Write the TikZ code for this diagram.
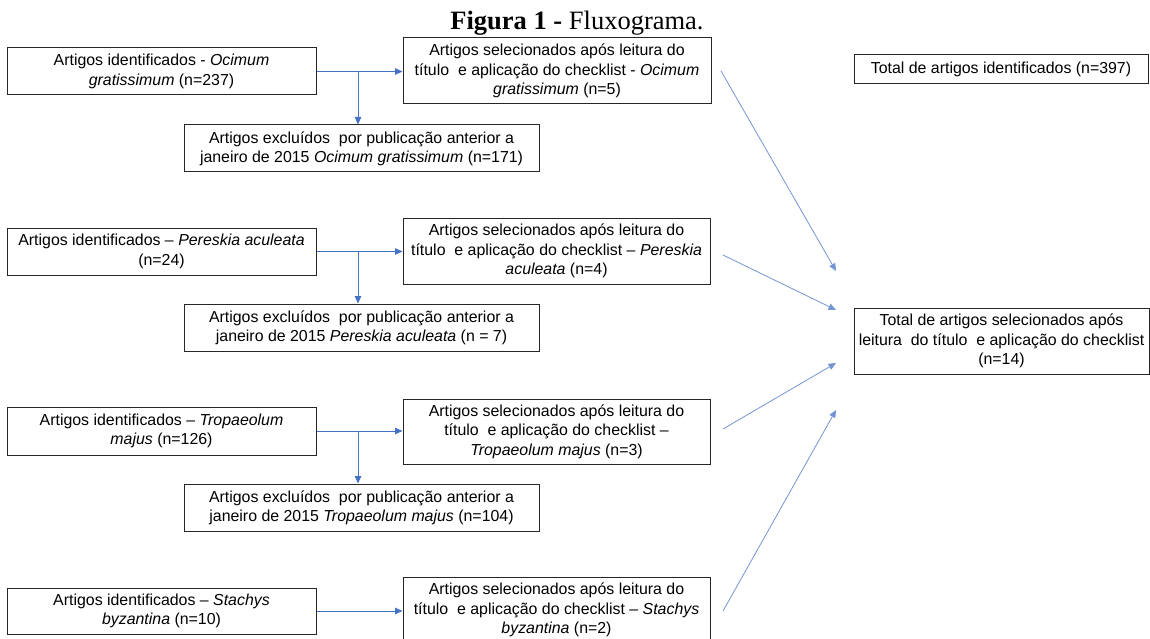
\documentclass[tikz,border=0pt]{standalone}
\usepackage{fontspec}
\setmainfont{Liberation Sans}
\newfontfamily\titlefont{Liberation Serif}
\usetikzlibrary{arrows.meta}
\definecolor{arrblue}{RGB}{68,114,196}
\begin{document}
\begin{tikzpicture}[x=1pt,y=-1pt,
  box/.style={draw=black!85, line width=1pt, align=center, inner sep=0pt,
    font=\fontsize{15.9}{19.3}\selectfont},
  arr/.style={draw=arrblue, line width=0.9pt, -{Triangle[length=7.5pt,width=6.5pt]}},
  longarr/.style={draw=arrblue!75, line width=0.8pt, -{Triangle[length=7.5pt,width=6.5pt]}}]
\useasboundingbox (0,0) rectangle (1150,639);
\clip (0,0) rectangle (1150,639);

\node[anchor=base] (title) at (577,30) {\titlefont\fontsize{26.5}{29}\selectfont\textbf{Figura 1 -} Fluxograma.};

% row 1
\node[box, minimum width=309pt, minimum height=47pt] (A1) at (161.5,71.5)
  {Artigos identificados - \textit{Ocimum}\\\textit{gratissimum} (n=237)};
\node[box, minimum width=308pt, minimum height=66pt] (S1) at (557,71)
  {Artigos selecionados após leitura\ do\\título\ \ e aplicação do checklist - \textit{Ocimum}\\\textit{gratissimum} (n=5)};
\node[box, minimum width=355pt, minimum height=47pt] (E1) at (361.5,148.5)
  {Artigos excluídos\ \ por publicação anterior a\\janeiro de 2015 \textit{Ocimum gratissimum} (n=171)};

% row 2
\node[box, minimum width=309pt, minimum height=47pt] (A2) at (161.5,251.5)
  {Artigos identificados – \textit{Pereskia aculeata}\\(n=24)};
\node[box, minimum width=307pt, minimum height=66pt] (S2) at (556.5,251)
  {Artigos selecionados após leitura\ do\\título\ \ e aplicação do checklist – \textit{Pereskia}\\\textit{aculeata} (n=4)};
\node[box, minimum width=355pt, minimum height=47pt] (E2) at (361.5,327.5)
  {Artigos excluídos\ \ por publicação anterior a\\janeiro de 2015 \textit{Pereskia aculeata} (n = 7)};

% row 3
\node[box, minimum width=309pt, minimum height=48pt] (A3) at (161.5,431)
  {Artigos identificados – \textit{Tropaeolum}\\\textit{majus} (n=126)};
\node[box, minimum width=307pt, minimum height=65pt] (S3) at (556.5,431.5)
  {Artigos selecionados após leitura\ do\\título\ \ e aplicação do checklist –\\\textit{Tropaeolum majus} (n=3)};
\node[box, minimum width=355pt, minimum height=47pt] (E3) at (361.5,507.5)
  {Artigos excluídos\ \ por publicação anterior a\\janeiro de 2015 \textit{Tropaeolum majus} (n=104)};

% row 4
\node[box, minimum width=309pt, minimum height=46pt] (A4) at (161.5,611)
  {Artigos identificados – \textit{Stachys}\\\textit{byzantina} (n=10)};
\node[box, minimum width=307pt, minimum height=66pt] (S4) at (556.5,610)
  {Artigos selecionados após leitura\ do\\título\ \ e aplicação do checklist – \textit{Stachys}\\\textit{byzantina} (n=2)};

% totals
\node[box, minimum width=294pt, minimum height=29pt] (TI) at (1001,69.5)
  {Total de artigos identificados (n=397)};
\node[box, minimum width=295pt, minimum height=66pt] (TS) at (1001.5,341)
  {Total de artigos selecionados após\\leitura\ \ do título\ \ e aplicação do checklist\\(n=14)};

% junctions
\coordinate (j1) at (358,71.5);
\coordinate (j2) at (358,251.5);
\coordinate (j3) at (358,431);

\draw[arr] (A1.east) -- (A1.east -| S1.west);
\draw[arr] (j1) -- (j1 |- E1.north);
\draw[arr] (A2.east) -- (A2.east -| S2.west);
\draw[arr] (j2) -- (j2 |- E2.north);
\draw[arr] (A3.east) -- (A3.east -| S3.west);
\draw[arr] (j3) -- (j3 |- E3.north);
\draw[arr] (A4.east) -- (A4.east -| S4.west);

% long connectors to total
\coordinate (s1) at (721,71);
\coordinate (s2) at (723,255);
\coordinate (s3) at (723,429);
\coordinate (s4) at (723,611);
\coordinate (t1) at (836,271);
\coordinate (t2) at (836,310);
\coordinate (t3) at (836,363);
\coordinate (t4) at (836,410);
\draw[longarr] (s1) -- (t1);
\draw[longarr] (s2) -- (t2);
\draw[longarr] (s3) -- (t3);
\draw[longarr] (s4) -- (t4);
\end{tikzpicture}
\end{document}
